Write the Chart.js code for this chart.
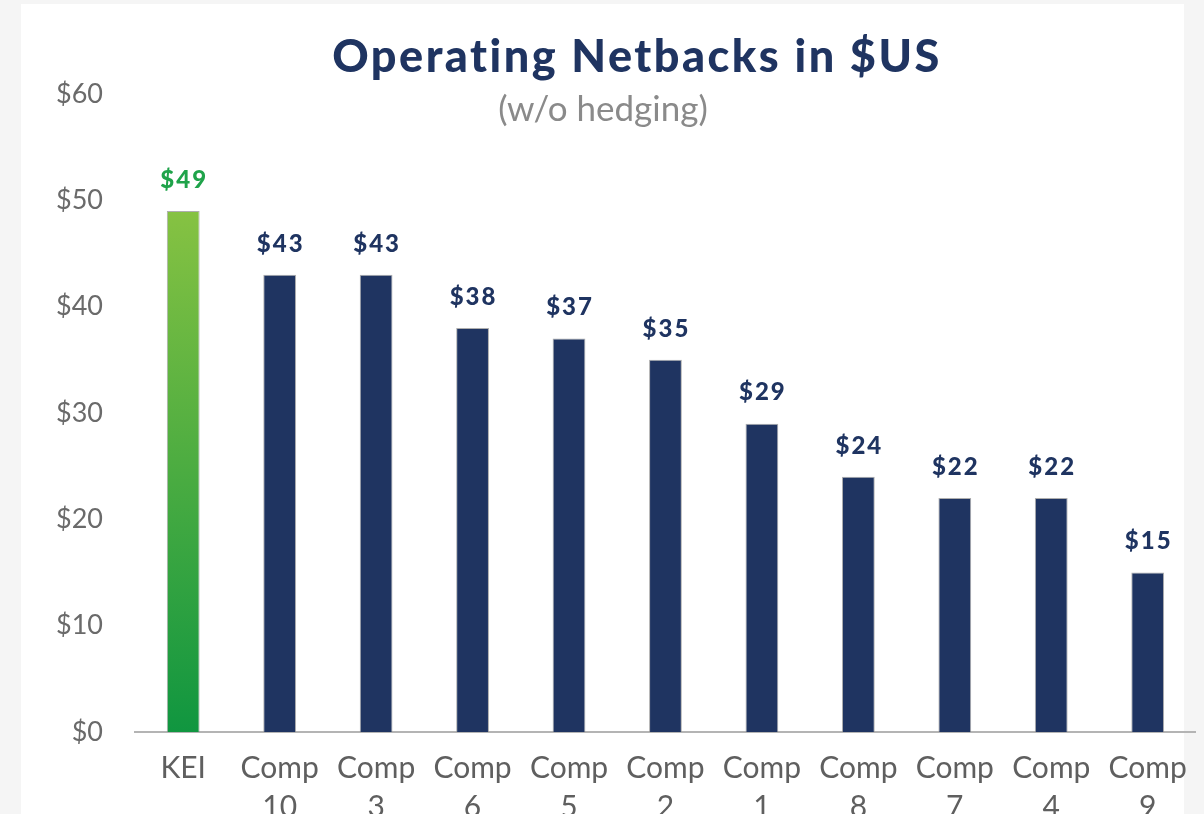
<!DOCTYPE html>
<html>
<head>
<meta charset="utf-8">
<script src="https://cdn.jsdelivr.net/npm/chart.js@4.4.1/dist/chart.umd.min.js"></script>
<style>
  html, body { margin: 0; padding: 0; background: #f5f5f5; }
  #panel { position: absolute; left: 21px; top: 4px; width: 1163px; height: 810px; background: #fff; }
  #wrap { position: absolute; left: 0; top: 0; width: 1204px; height: 814px; }
</style>
</head>
<body>
<div id="panel"></div>
<div id="wrap"><canvas id="netbackChart" width="1204" height="814"></canvas></div>
<script>
// Chart data
const categories = ['KEI', 'Comp 10', 'Comp 3', 'Comp 6', 'Comp 5', 'Comp 2', 'Comp 1', 'Comp 8', 'Comp 7', 'Comp 4', 'Comp 9'];
const netbacks = [49, 43, 43, 38, 37, 35, 29, 24, 22, 22, 15];
const yTicks = [0, 10, 20, 30, 40, 50, 60];

const titleText = 'Operating Netbacks in $US';
const subtitleText = '(w/o hedging)';

const NAVY = '#1f3461';
const GREEN = '#1fa34a';

// Title + subtitle drawn on the canvas
const titlePlugin = {
    id: 'titles',
    afterDraw(chart) {
        const ctx = chart.ctx;
        ctx.save();
        ctx.textAlign = 'center';
        ctx.textBaseline = 'alphabetic';
        ctx.fillStyle = NAVY;
        ctx.font = '900 45px Lato';
        ctx.letterSpacing = '2.5px';
        ctx.fillText(titleText, 637, 72);
        ctx.letterSpacing = '0px';
        ctx.fillStyle = '#8a8a8a';
        ctx.font = '35px Lato';
        ctx.fillText(subtitleText, 603, 121);
        ctx.restore();
    }
};

// Value labels above each bar
const valueLabels = {
    id: 'valueLabels',
    afterDatasetsDraw(chart) {
        const ctx = chart.ctx;
        const meta = chart.getDatasetMeta(0);
        ctx.save();
        ctx.textAlign = 'center';
        ctx.textBaseline = 'middle';
        ctx.font = '900 24px Lato';
        ctx.letterSpacing = '2px';
        meta.data.forEach((bar, i) => {
            ctx.fillStyle = i === 0 ? GREEN : NAVY;
            ctx.fillText('$' + netbacks[i], bar.x + 1, bar.y - 31);
        });
        ctx.restore();
    }
};

function barColor(context) {
    if (context.dataIndex !== 0) return NAVY;
    const chart = context.chart;
    const area = chart.chartArea;
    if (!area) return '#4caf4a';
    const y = chart.scales.y;
    const g = chart.ctx.createLinearGradient(0, y.getPixelForValue(netbacks[0]), 0, y.getPixelForValue(0));
    g.addColorStop(0, '#86c242');
    g.addColorStop(1, '#109640');
    return g;
}

const ctx = document.getElementById('netbackChart').getContext('2d');
new Chart(ctx, {
    type: 'bar',
    data: {
        labels: categories.map(c => c.split(' ')),
        datasets: [{
            data: netbacks,
            backgroundColor: barColor,
            borderColor: 'rgba(140,140,140,0.7)',
            borderWidth: 1,
            barPercentage: 0.34,
            categoryPercentage: 1
        }]
    },
    options: {
        responsive: false,
        animation: false,
        layout: { padding: { top: 94, right: 4, left: 0, bottom: 0 } },
        plugins: {
            legend: { display: false },
            tooltip: { enabled: false }
        },
        scales: {
            x: {
                grid: { display: false, drawTicks: false },
                border: { display: true, color: '#b4b4b4', width: 2 },
                ticks: {
                    color: '#5f5f5f',
                    font: { family: 'Lato', size: 30, lineHeight: 1.3 },
                    padding: 17,
                    maxRotation: 0,
                    autoSkip: false
                },
                afterFit(scale) { scale.height = 82; }
            },
            y: {
                min: 0,
                max: 60,
                grid: { display: false, drawTicks: false },
                border: { display: false },
                afterBuildTicks(scale) { scale.ticks = yTicks.map(v => ({ value: v })); },
                ticks: {
                    color: '#6a6a6a',
                    font: { family: 'Lato', size: 27 },
                    padding: 32,
                    callback: v => '$' + v
                },
                afterFit(scale) { scale.width = 135; }
            }
        }
    },
    plugins: [titlePlugin, valueLabels]
});
</script>
</body>
</html>
